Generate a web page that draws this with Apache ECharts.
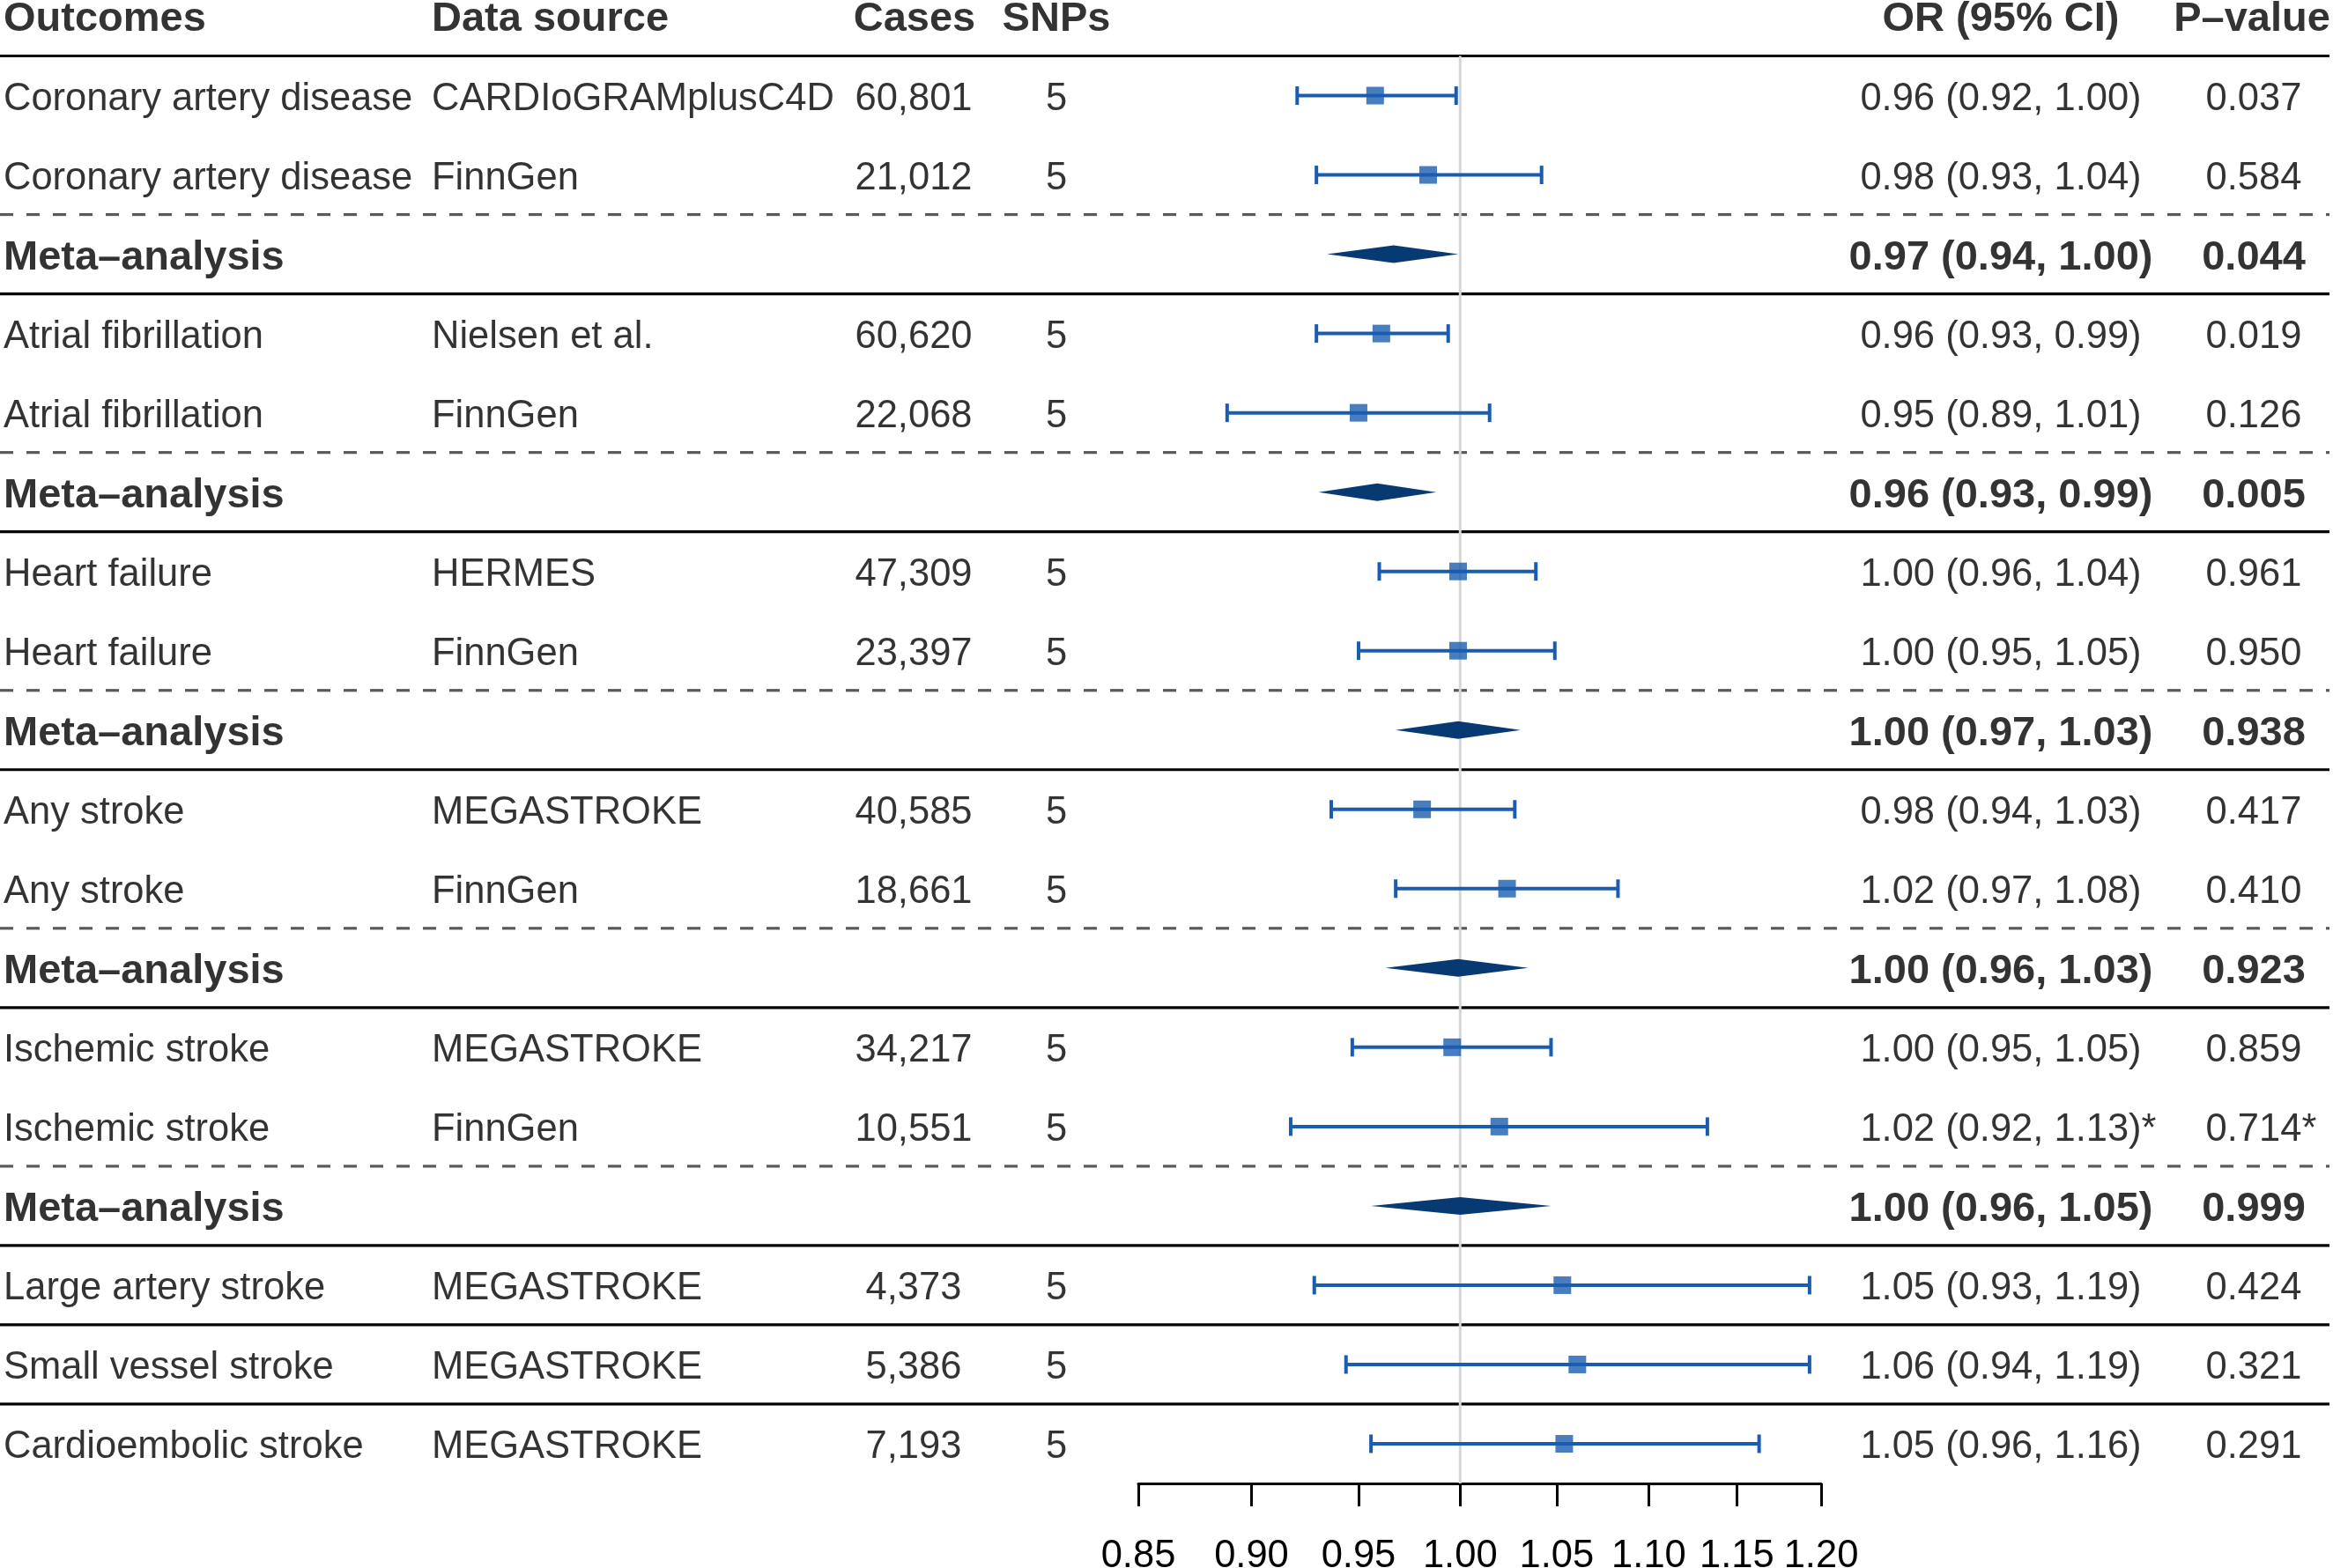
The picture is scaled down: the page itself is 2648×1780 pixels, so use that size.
<!DOCTYPE html>
<html><head><meta charset="utf-8">
<script src="https://cdn.jsdelivr.net/npm/echarts@6/dist/echarts.min.js"></script>
<style>html,body{margin:0;padding:0;background:#fff}#c{width:2648px;height:1780px}</style>
</head><body><div id="c"></div>
<script>
// ---------------- data ----------------
const headers = ['Outcomes', 'Data source', 'Cases', 'SNPs', 'OR (95% CI)', 'P\u2013value'];
const outcomes = ['Coronary artery disease','Coronary artery disease','Meta\u2013analysis',
  'Atrial fibrillation','Atrial fibrillation','Meta\u2013analysis',
  'Heart failure','Heart failure','Meta\u2013analysis',
  'Any stroke','Any stroke','Meta\u2013analysis',
  'Ischemic stroke','Ischemic stroke','Meta\u2013analysis',
  'Large artery stroke','Small vessel stroke','Cardioembolic stroke'];
const sources = ['CARDIoGRAMplusC4D','FinnGen','','Nielsen et al.','FinnGen','','HERMES','FinnGen','',
  'MEGASTROKE','FinnGen','','MEGASTROKE','FinnGen','','MEGASTROKE','MEGASTROKE','MEGASTROKE'];
const cases = ['60,801','21,012','','60,620','22,068','','47,309','23,397','','40,585','18,661','',
  '34,217','10,551','','4,373','5,386','7,193'];
const snps = ['5','5','','5','5','','5','5','','5','5','','5','5','','5','5','5'];
const orText = ['0.96 (0.92, 1.00)','0.98 (0.93, 1.04)','0.97 (0.94, 1.00)',
  '0.96 (0.93, 0.99)','0.95 (0.89, 1.01)','0.96 (0.93, 0.99)',
  '1.00 (0.96, 1.04)','1.00 (0.95, 1.05)','1.00 (0.97, 1.03)',
  '0.98 (0.94, 1.03)','1.02 (0.97, 1.08)','1.00 (0.96, 1.03)',
  '1.00 (0.95, 1.05)','1.02 (0.92, 1.13)','1.00 (0.96, 1.05)',
  '1.05 (0.93, 1.19)','1.06 (0.94, 1.19)','1.05 (0.96, 1.16)'];
const pText = ['0.037','0.584','0.044','0.019','0.126','0.005','0.961','0.950','0.938',
  '0.417','0.410','0.923','0.859','0.714','0.999','0.424','0.321','0.291'];
const footnote = ['','','','','','','','','','','','','','*','','','',''];
const isMeta = [0,0,1,0,0,1,0,0,1,0,0,1,0,0,1,0,0,0];
// point estimates and CI bounds
const est   = [0.958,0.984,0.967,0.961,0.950,0.959,0.999,0.999,0.999,0.981,1.024,0.999,0.996,1.020,1.000,1.053,1.061,1.054];
const lower = [0.921,0.930,0.935,0.930,0.889,0.931,0.960,0.950,0.968,0.937,0.968,0.963,0.947,0.918,0.956,0.929,0.944,0.956];
const upper = [0.998,1.042,0.999,0.994,1.015,0.988,1.039,1.049,1.031,1.028,1.083,1.035,1.047,1.133,1.047,1.193,1.193,1.163];
// row separators (between rows) and their style
const sepPos   = [0.5, 2.5, 3.5, 5.5, 6.5, 8.5, 9.5, 11.5, 12.5, 14.5, 15.5, 16.5, 17.5];
const sepStyle = ['solid','dashed','solid','dashed','solid','dashed','solid','dashed','solid','dashed','solid','solid','solid'];
const xTicks = [0.85, 0.90, 0.95, 1.00, 1.05, 1.10, 1.15, 1.20];
const xMin = 0.85, xMax = 1.20, refValue = 1.00;

// ---------------- chart ----------------
const FONT = "'Liberation Sans', Arial, Helvetica, sans-serif";
const FS = 43.5;
const FSB = 47;
const BLUE = '#1a5cb0';
const NAVY = '#073a73';
const LN = Math.log;
const N = outcomes.length;
const yMin = -18.5 / 90, yMax = 18.5;

const chart = echarts.init(document.getElementById('c'), null, {renderer: 'canvas'});

function column(texts, x, align, opts) {
  opts = opts || {};
  const idx = [];
  texts.forEach((t, i) => { if (t !== '') idx.push(i); });
  return {
    type: 'scatter', xAxisIndex: 1, yAxisIndex: 1, silent: true, z: 10,
    symbolSize: 1, itemStyle: {color: 'rgba(0,0,0,0)'}, clip: false,
    data: idx.map(i => {
      const bold = opts.header || (opts.boldMeta && isMeta[i]);
      return {
        value: [x, opts.header ? 0 : i + 1],
        label: {fontWeight: bold ? 'bold' : 'normal', fontSize: bold ? FSB : FS, color: '#000'}
      };
    }),
    label: {
      show: true, position: 'inside', align: align, verticalAlign: 'middle',
      offset: [0, 4],
      fontFamily: FONT, fontSize: FS, color: '#000',
      formatter: p => {
        const i = idx[p.dataIndex];
        const t = texts[i];
        if (opts.note && footnote[i]) return '{g|' + footnote[i] + '}' + t + '{s|' + footnote[i] + '}';
        return t;
      },
      rich: {
        g: {color: 'rgba(0,0,0,0)', fontFamily: FONT, fontSize: FS},
        s: {color: '#000', fontFamily: FONT, fontSize: FS}
      }
    }
  };
}

const studyIdx = [], metaIdx = [];
for (let i = 0; i < N; i++) (isMeta[i] ? metaIdx : studyIdx).push(i);

const option = {
  backgroundColor: '#fff',
  animation: false,
  grid: [
    {left: 1292, width: 775, top: 0, height: 1684, containLabel: false, outerBoundsMode: 'none'},
    {left: 0, width: 2644, top: 0, height: 1684, containLabel: false, outerBoundsMode: 'none'}
  ],
  xAxis: [
    {
      type: 'value', gridIndex: 0, min: LN(xMin), max: LN(xMax),
      axisLine: {show: true, onZero: false, lineStyle: {color: '#000', width: 3}},
      axisTick: {show: true, customValues: xTicks.map(LN), length: 26, lineStyle: {color: '#000', width: 3}},
      axisLabel: {show: true, customValues: xTicks.map(LN), formatter: v => Math.exp(v).toFixed(2),
        fontFamily: FONT, fontSize: FS, color: '#000', margin: 61},
      splitLine: {show: false}
    },
    {type: 'value', gridIndex: 1, min: 0, max: 2644, show: false}
  ],
  yAxis: [
    {type: 'value', gridIndex: 0, min: yMin, max: yMax, inverse: true, show: false},
    {type: 'value', gridIndex: 1, min: yMin, max: yMax, inverse: true, show: false}
  ],
  series: [
    // separators
    {
      type: 'custom', xAxisIndex: 1, yAxisIndex: 1, silent: true, z: 1,
      data: sepPos.map((y, i) => [y, i]),
      renderItem: (params, api) => {
        const cs = params.coordSys;
        const y = api.coord([0, api.value(0)])[1];
        const dashed = sepStyle[api.value(1)] === 'dashed';
        return {type: 'line', shape: {x1: cs.x, y1: y, x2: cs.x + cs.width, y2: y},
          style: {stroke: dashed ? '#5a5a5a' : '#000', lineWidth: 3.2, lineDash: dashed ? [15, 15] : null}};
      }
    },
    // reference line at OR = 1
    {
      type: 'custom', xAxisIndex: 0, yAxisIndex: 0, silent: true, z: 3,
      data: [[LN(refValue), 0.5, yMax]],
      renderItem: (params, api) => {
        const a = api.coord([api.value(0), api.value(1)]);
        const b = api.coord([api.value(0), api.value(2)]);
        return {type: 'line', shape: {x1: a[0], y1: a[1], x2: b[0], y2: b[1]},
          style: {stroke: '#d6d6d6', lineWidth: 3}};
      }
    },
    // confidence intervals
    {
      type: 'custom', xAxisIndex: 0, yAxisIndex: 0, silent: true, z: 5,
      data: studyIdx.map(i => [LN(lower[i]), LN(upper[i]), i + 1]),
      renderItem: (params, api) => {
        const a = api.coord([api.value(0), api.value(2)]);
        const b = api.coord([api.value(1), api.value(2)]);
        const st = {stroke: BLUE, lineWidth: 4};
        const h = 10.5;
        return {type: 'group', children: [
          {type: 'line', shape: {x1: a[0], y1: a[1], x2: b[0], y2: b[1]}, style: st},
          {type: 'line', shape: {x1: a[0], y1: a[1] - h, x2: a[0], y2: a[1] + h}, style: st},
          {type: 'line', shape: {x1: b[0], y1: b[1] - h, x2: b[0], y2: b[1] + h}, style: st}
        ]};
      }
    },
    // point estimates
    {
      type: 'scatter', xAxisIndex: 0, yAxisIndex: 0, silent: true, z: 6,
      symbol: 'rect', symbolSize: 20, itemStyle: {color: BLUE},
      data: studyIdx.map(i => [LN(est[i]), i + 1])
    },
    // meta-analysis diamonds
    {
      type: 'custom', xAxisIndex: 0, yAxisIndex: 0, silent: true, z: 6,
      data: metaIdx.map(i => [LN(lower[i]), LN(est[i]), LN(upper[i]), i + 1]),
      renderItem: (params, api) => {
        const r = api.value(3);
        const l = api.coord([api.value(0), r]);
        const c = api.coord([api.value(1), r]);
        const u = api.coord([api.value(2), r]);
        const h = 10;
        return {type: 'polygon', shape: {points: [[l[0], l[1]], [c[0], c[1] - h], [u[0], u[1]], [c[0], c[1] + h]]},
          style: {fill: NAVY}};
      }
    },
    // header
    column([headers[0]], 4, 'left', {header: true}),
    column([headers[1]], 490, 'left', {header: true}),
    column([headers[2]], 1038, 'center', {header: true}),
    column([headers[3]], 1199, 'center', {header: true}),
    column([headers[4]], 2271, 'center', {header: true}),
    column([headers[5]], 2556, 'center', {header: true}),
    // table columns
    column(outcomes, 4, 'left', {boldMeta: true}),
    column(sources, 490, 'left', {}),
    column(cases, 1037, 'center', {}),
    column(snps, 1199, 'center', {}),
    column(orText, 2271, 'center', {boldMeta: true, note: true}),
    column(pText, 2558, 'center', {boldMeta: true, note: true})
  ]
};
chart.setOption(option);
</script>
</body></html>
